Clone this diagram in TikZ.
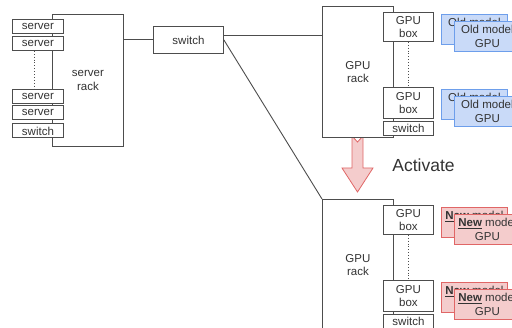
\documentclass[tikz,border=0pt]{standalone}
\usepackage{fontspec}
\setmainfont{Liberation Sans}
\usetikzlibrary{positioning}

\definecolor{linegray}{HTML}{4D4D4D}
\definecolor{textgray}{HTML}{333333}
\definecolor{oldfill}{HTML}{C9DAF8}
\definecolor{olddraw}{HTML}{6D9EEB}
\definecolor{newfill}{HTML}{F4CCCC}
\definecolor{newdraw}{HTML}{E06666}

\begin{document}
\begin{tikzpicture}[x=1pt, y=-1pt, line width=0.9pt, linegray,
	every node/.style={font=\fontsize{11.5}{13.5}\selectfont, text=textgray, align=center, inner sep=0pt},
	unit/.style={draw=linegray, fill=white, anchor=north west},
	rack/.style={draw=linegray, fill=white, anchor=north west, minimum width=71pt, minimum height=131pt},
	old/.style={draw=olddraw, fill=oldfill, line width=0.8pt, anchor=north west, minimum width=66pt, minimum height=30pt},
	new/.style={draw=newdraw, fill=newfill, line width=0.8pt, anchor=north west, minimum width=66pt, minimum height=30pt}]
		\clip (0,0) rectangle (512,328);
		
		\filldraw [draw=newdraw, fill=newfill, line width=0.8pt] (352,136) -- (357.5,142) -- (363,136) -- (363,168)
			-- (373,168) -- (357.5,192) -- (342,168) -- (352,168) -- cycle;
		\node [font=\fontsize{17.5}{20}\selectfont] (act) at (423.5,165) {Activate};
		
		\node [rack, minimum height=132pt] (srack) at (52,14) {server\\rack};
		\foreach \n/\y/\t in {s1/19.5/server, s2/36/server, s3/89/server, s4/105.5/server, s5/123.5/switch}
			\node [unit, minimum width=51pt, minimum height=14pt] (\n) at (12,\y) {\t};
		\draw [dotted] ([xshift=-3.5pt]s2.south) -- ([xshift=-3.5pt]s3.north);
		
		\node [unit, minimum width=70pt, minimum height=27pt] (core) at (153,26) {switch};
		\draw (srack.east |- core.west) -- (core.west);
		
		\foreach \r/\t/\c/\m in {1/6/old/{Old model}, 2/199/new/{\underline{\textbf{New}} model}} {
			\node [rack] (grack\r) at (322,\t) {GPU\\rack};
			\node [unit, minimum width=50pt, minimum height=29pt] (gtop\r) at (383,\t+6) {GPU\\box};
			\node [unit, minimum width=50pt, minimum height=31pt] (gbot\r) at (383,\t+81) {GPU\\box};
			\node [unit, minimum width=50pt, minimum height=14pt] (gsw\r) at (383,\t+115) {switch};
			\draw [dotted] (gtop\r.south) -- (gbot\r.north);
			\foreach \s/\o in {a/8, b/83} {
				\node [\c] (back\s\r) at (441,\t+\o) {\m\\GPU};
				\node [\c] (front\s\r) at (454,\t+\o+7) {\m\\GPU};
			}
		}
		
		\coordinate (up) at ([yshift=4.5pt]core.east);
		\draw (up) -- (up -| grack1.west);
		\draw (core.east) -- (grack2.north west);
\end{tikzpicture}
\end{document}
